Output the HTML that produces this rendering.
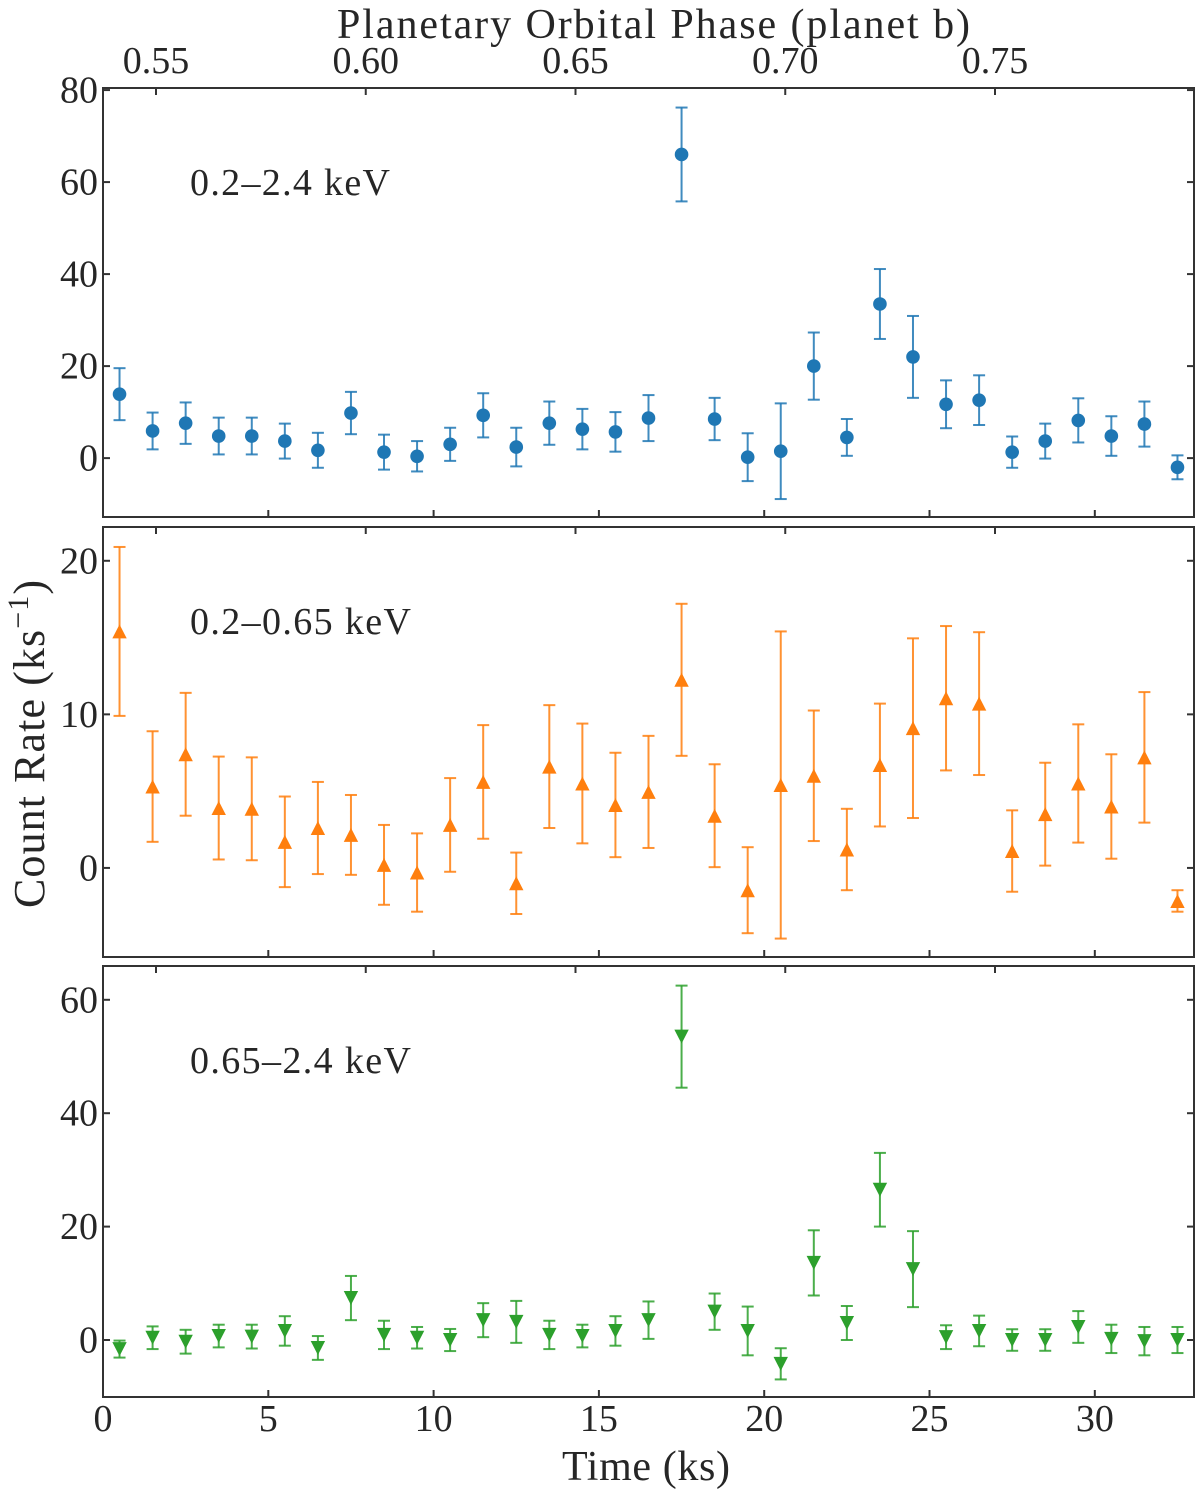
<!DOCTYPE html>
<html lang="en">
<head>
<meta charset="utf-8">
<title>Count rate light curves</title>
<style>
html,body{margin:0;padding:0;background:#fff;}
svg{display:block;}
text{font-family:"Liberation Serif",serif;fill:#262626;}
</style>
</head>
<body>
<svg id="chart" xmlns="http://www.w3.org/2000/svg" width="1200" height="1495" viewBox="0 0 1200 1495">
  <rect x="0" y="0" width="1200" height="1495" fill="#ffffff"/>
  <text x="337" y="38" font-size="42" textLength="633" lengthAdjust="spacing">Planetary Orbital Phase (planet b)</text>
  <text x="562" y="1480" font-size="42" textLength="168" lengthAdjust="spacing">Time (ks)</text>
  <text x="44" y="908" font-size="44" textLength="328" lengthAdjust="spacing" transform="rotate(-90 44 908)">Count Rate (ks<tspan dy="-16" font-size="30">−1</tspan><tspan dy="16">)</tspan></text>
  <text x="190" y="195" font-size="38" textLength="200" lengthAdjust="spacing">0.2–2.4 keV</text>
  <text x="190" y="634" font-size="38" textLength="221" lengthAdjust="spacing">0.2–0.65 keV</text>
  <text x="190" y="1073" font-size="38" textLength="221" lengthAdjust="spacing">0.65–2.4 keV</text>
</svg>
<script>
var times = [0.5,1.5,2.5,3.5,4.5,5.5,6.5,7.5,8.5,9.5,10.5,11.5,12.5,13.5,14.5,15.5,16.5,17.5,18.5,19.5,20.5,21.5,22.5,23.5,24.5,25.5,26.5,27.5,28.5,29.5,30.5,31.5,32.5];
var fullRate = [13.9,5.9,7.6,4.8,4.8,3.7,1.7,9.8,1.3,0.4,3,9.3,2.4,7.6,6.3,5.7,8.7,66,8.5,0.2,1.5,20,4.5,33.5,22,11.7,12.6,1.3,3.7,8.2,4.8,7.4,-2];
var fullErr = [5.65,4,4.5,4,4,3.8,3.8,4.6,3.8,3.3,3.6,4.8,4.2,4.7,4.4,4.3,5,10.2,4.6,5.2,10.4,7.3,4,7.6,8.9,5.2,5.4,3.4,3.8,4.8,4.3,4.9,2.6];
var softRate = [15.4,5.3,7.4,3.9,3.85,1.7,2.6,2.15,0.2,-0.3,2.8,5.6,-1,6.6,5.5,4.1,4.95,12.25,3.4,-1.45,5.4,6,1.2,6.7,9.1,11.05,10.7,1.1,3.5,5.5,4,7.2,-2.15];
var softErr = [5.5,3.6,4,3.35,3.35,2.95,3,2.6,2.6,2.55,3.05,3.7,2,4,3.9,3.4,3.65,4.95,3.35,2.8,10,4.25,2.65,4,5.85,4.7,4.65,2.65,3.35,3.85,3.4,4.25,0.7];
var hardRate = [-1.6,0.4,-0.3,0.7,0.6,1.6,-1.4,7.4,0.9,0.4,0,3.5,3.2,0.9,0.7,1.6,3.5,53.5,5,1.6,-4.2,13.6,3,26.5,12.5,0.5,1.6,0,0,2.3,0.2,-0.2,0];
var hardErr = [1.5,2,2.1,2,2.1,2.6,2.1,3.9,2.5,1.9,1.95,3,3.7,2.5,2,2.6,3.3,9,3.2,4.3,2.75,5.75,3,6.5,6.7,2.1,2.7,1.9,1.9,2.8,2.5,2.5,2.3];
var timeTicks = [0,5,10,15,20,25,30];
var phaseTicks = ["0.55","0.60","0.65","0.70","0.75"];
var fullTicks = [0,20,40,60,80];
var softTicks = [0,10,20];
var hardTicks = [0,20,40,60];

var svg = document.getElementById('chart');
var NS = 'http://www.w3.org/2000/svg';
var LEFT = 103, RIGHT = 1194, TMAX = 33;

function xScale(t){ return LEFT + t * (RIGHT - LEFT) / TMAX; }
function phaseScale(p){ return 156 + (p - 0.55) * (995 - 156) / 0.2; }
function makeY(domMin, domMax, top, bottom){
  return function(v){ return bottom - (v - domMin) * (bottom - top) / (domMax - domMin); };
}
function add(tag, attrs, parent){
  var el = document.createElementNS(NS, tag);
  for (var k in attrs) el.setAttribute(k, attrs[k]);
  (parent || svg).appendChild(el);
  return el;
}

function drawPanel(cfg){
  var y = makeY(cfg.min, cfg.max, cfg.top, cfg.bottom);
  var g = add('g', {});
  
  

  // error bars and markers
  for (var i = 0; i < times.length; i++){
    var cx = xScale(times[i]);
    var hi = y(cfg.rate[i] + cfg.err[i]);
    var lo = y(cfg.rate[i] - cfg.err[i]);
    var cy = y(cfg.rate[i]);
    var pt = add('g', {stroke: cfg.color, 'stroke-width': 2, 'stroke-opacity': 0.85, fill: 'none'}, g);
    
    
    add('line', {x1: cx, x2: cx, y1: hi, y2: lo}, pt);
    add('line', {x1: cx - 6, x2: cx + 6, y1: hi, y2: hi}, pt);
    add('line', {x1: cx - 6, x2: cx + 6, y1: lo, y2: lo}, pt);
    if (cfg.marker === 'circle'){
      add('circle', {cx: cx, cy: cy, r: 6.8, fill: cfg.color, stroke: 'none'}, pt);
    } else if (cfg.marker === 'up'){
      add('polygon', {points: (cx-7.2)+','+(cy+7)+' '+(cx+7.2)+','+(cy+7)+' '+cx+','+(cy-7), fill: cfg.color, stroke: 'none'}, pt);
    } else {
      add('polygon', {points: (cx-7.2)+','+(cy-7)+' '+(cx+7.2)+','+(cy-7)+' '+cx+','+(cy+7), fill: cfg.color, stroke: 'none'}, pt);
    }
  }

  // frame
  var frame = add('rect', {x: LEFT, y: cfg.top, width: RIGHT - LEFT, height: cfg.bottom - cfg.top, fill: 'none', stroke: '#333', 'stroke-width': 2}, g);
  
  

  // y ticks, both sides
  cfg.ticks.forEach(function(v){
    var ty = y(v);
    var tl = add('line', {x1: LEFT, x2: LEFT + 7, y1: ty, y2: ty, stroke: '#333', 'stroke-width': 2}, g);
    
    
    var tr = add('line', {x1: RIGHT - 7, x2: RIGHT, y1: ty, y2: ty, stroke: '#333', 'stroke-width': 2}, g);
    
    
    var lab = add('text', {x: 98, y: ty + 12.5, 'font-size': 38, 'text-anchor': 'end'}, g);
    
    
    lab.textContent = String(v);
  });

  // time ticks along the bottom
  timeTicks.forEach(function(t){
    var tx = xScale(t);
    if (t !== 0){
      var tk = add('line', {x1: tx, x2: tx, y1: cfg.bottom - 7, y2: cfg.bottom, stroke: '#333', 'stroke-width': 2}, g);
      
      
    }
    if (cfg.showTime){
      var lab = add('text', {x: tx, y: 1431, 'font-size': 38, 'text-anchor': 'middle'}, g);
      
      
      lab.textContent = String(t);
    }
  });

  // phase ticks along the top
  phaseTicks.forEach(function(p){
    var px = phaseScale(parseFloat(p));
    var tk = add('line', {x1: px, x2: px, y1: cfg.top, y2: cfg.top + 7, stroke: '#333', 'stroke-width': 2}, g);
    
    
    if (cfg.showPhase){
      var lab = add('text', {x: px, y: 73, 'font-size': 38, 'text-anchor': 'middle'}, g);
      
      
      lab.textContent = p;
    }
  });
}

drawPanel({name:'full', rate:fullRate, err:fullErr, ticks:fullTicks, color:'#1f77b4', marker:'circle', min:-12.8, max:80.45, top:88, bottom:517, showPhase:true, showTime:false});
drawPanel({name:'soft', rate:softRate, err:softErr, ticks:softTicks, color:'#ff7f0e', marker:'up', min:-5.8, max:22.2, top:527, bottom:957, showPhase:false, showTime:false});
drawPanel({name:'hard', rate:hardRate, err:hardErr, ticks:hardTicks, color:'#2ca02c', marker:'down', min:-10.05, max:65.96, top:966, bottom:1397, showPhase:false, showTime:true});
</script>
</body>
</html>
